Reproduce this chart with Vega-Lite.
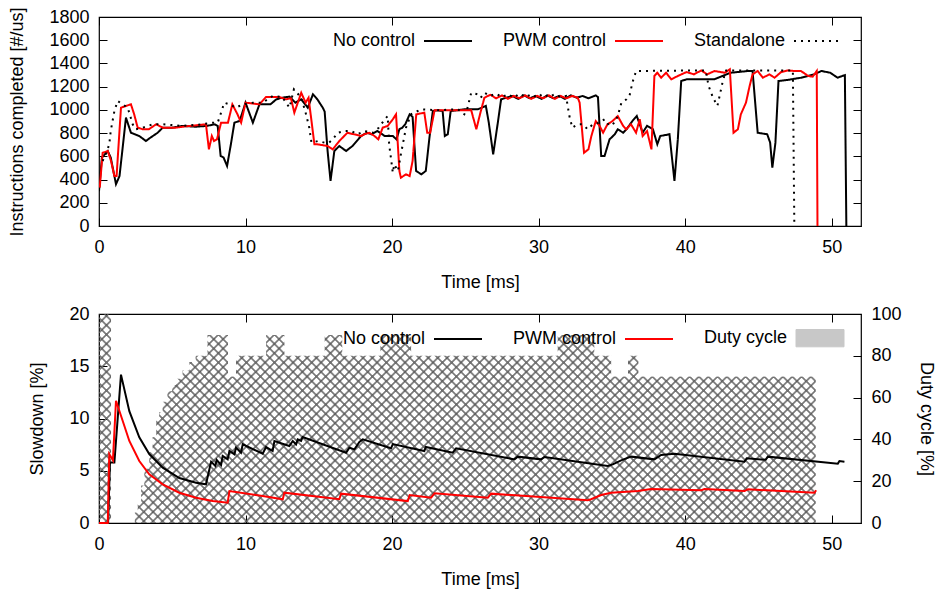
{
"$schema": "https://vega.github.io/schema/vega-lite/v6.json",
"background": "white",
"padding": {"left": 8, "top": 6, "right": 2, "bottom": 0},
"spacing": 12,
"config": {
  "font": "Liberation Sans",
  "view": {"stroke": "black", "strokeWidth": 1.2},
  "axis": {"labelFontSize": 18, "titleFontSize": 18, "labelColor": "black", "titleColor": "black", "titleFontWeight": "normal", "labelFont": "Liberation Sans", "titleFont": "Liberation Sans", "domain": false, "grid": false, "tickColor": "black", "tickSize": -8, "tickWidth": 1, "labelFlush": false, "labelOverlap": false, "titlePadding": 22},
  "axisX": {"labelPadding": 20, "titlePadding": 17},
  "axisY": {"labelPadding": 18},
  "legend": {"labelFontSize": 18, "labelFont": "Liberation Sans", "labelColor": "black", "labelLimit": 300}
},
"datasets": {
  "noctl": [{"t":0,"v":300},{"t":0.2,"v":590},{"t":0.6,"v":645},{"t":0.8,"v":590},{"t":1.16,"v":360},{"t":1.4,"v":430},{"t":1.84,"v":933},{"t":2.18,"v":803},{"t":2.75,"v":775},{"t":3.2,"v":732},{"t":3.5,"v":760},{"t":4.0,"v":803},{"t":4.35,"v":847},{"t":5.0,"v":847},{"t":5.7,"v":862},{"t":6.6,"v":855},{"t":7.35,"v":862},{"t":7.9,"v":876},{"t":8.1,"v":862},{"t":8.3,"v":603},{"t":8.5,"v":590},{"t":8.74,"v":517},{"t":9.0,"v":704},{"t":9.24,"v":890},{"t":9.6,"v":905},{"t":10.0,"v":1062},{"t":10.5,"v":890},{"t":10.95,"v":1048},{"t":11.7,"v":1048},{"t":12.1,"v":1091},{"t":12.5,"v":1105},{"t":13.0,"v":1114},{"t":13.4,"v":1062},{"t":13.8,"v":1091},{"t":14.25,"v":1019},{"t":14.6,"v":1134},{"t":14.9,"v":1091},{"t":15.27,"v":1019},{"t":15.4,"v":985},{"t":15.6,"v":646},{"t":15.8,"v":388},{"t":16.06,"v":646},{"t":16.4,"v":689},{"t":16.86,"v":646},{"t":17.3,"v":689},{"t":17.88,"v":775},{"t":18.3,"v":803},{"t":18.6,"v":790},{"t":19.0,"v":818},{"t":19.5,"v":775},{"t":20.05,"v":775},{"t":20.3,"v":746},{"t":20.5,"v":833},{"t":20.7,"v":847},{"t":20.9,"v":876},{"t":21.2,"v":962},{"t":21.4,"v":940},{"t":21.64,"v":474},{"t":22.0,"v":445},{"t":22.3,"v":474},{"t":22.55,"v":761},{"t":22.78,"v":990},{"t":23.1,"v":997},{"t":23.45,"v":990},{"t":23.6,"v":775},{"t":23.8,"v":790},{"t":24.0,"v":990},{"t":24.9,"v":1005},{"t":25.85,"v":1005},{"t":26.4,"v":1034},{"t":26.6,"v":890},{"t":26.9,"v":617},{"t":27.2,"v":876},{"t":27.44,"v":1091},{"t":27.8,"v":1105},{"t":28.2,"v":1120},{"t":28.6,"v":1095},{"t":29.0,"v":1125},{"t":29.4,"v":1100},{"t":29.8,"v":1120},{"t":30.2,"v":1095},{"t":30.6,"v":1125},{"t":31.0,"v":1100},{"t":31.4,"v":1120},{"t":31.8,"v":1095},{"t":32.2,"v":1125},{"t":32.6,"v":1105},{"t":33.0,"v":1120},{"t":33.4,"v":1100},{"t":33.9,"v":1125},{"t":34.05,"v":1110},{"t":34.27,"v":603},{"t":34.5,"v":603},{"t":34.84,"v":746},{"t":35.2,"v":790},{"t":35.4,"v":833},{"t":35.77,"v":804},{"t":36.0,"v":833},{"t":36.4,"v":904},{"t":36.7,"v":947},{"t":37.1,"v":804},{"t":37.4,"v":862},{"t":37.8,"v":833},{"t":38.1,"v":704},{"t":38.3,"v":775},{"t":38.93,"v":790},{"t":39.27,"v":388},{"t":39.5,"v":746},{"t":39.73,"v":1249},{"t":40.1,"v":1263},{"t":40.85,"v":1263},{"t":41.98,"v":1263},{"t":43.1,"v":1320},{"t":44.3,"v":1335},{"t":44.6,"v":1335},{"t":44.95,"v":803},{"t":45.6,"v":790},{"t":45.8,"v":718},{"t":45.95,"v":502},{"t":46.16,"v":718},{"t":46.37,"v":1249},{"t":47.0,"v":1258},{"t":47.9,"v":1277},{"t":48.8,"v":1306},{"t":49.3,"v":1335},{"t":49.9,"v":1320},{"t":50.4,"v":1277},{"t":50.9,"v":1300},{"t":51.0,"v":0}],
  "pwm": [{"t":0.05,"v":330},{"t":0.25,"v":631},{"t":0.6,"v":645},{"t":0.82,"v":560},{"t":1.05,"v":430},{"t":1.2,"v":430},{"t":1.5,"v":1019},{"t":1.84,"v":1034},{"t":2.18,"v":1048},{"t":2.4,"v":962},{"t":2.64,"v":847},{"t":3.0,"v":833},{"t":3.4,"v":833},{"t":3.9,"v":876},{"t":4.35,"v":847},{"t":5.25,"v":847},{"t":6.2,"v":862},{"t":7.3,"v":876},{"t":7.5,"v":660},{"t":7.7,"v":775},{"t":7.85,"v":732},{"t":8.05,"v":746},{"t":8.33,"v":890},{"t":8.8,"v":890},{"t":9.1,"v":1048},{"t":9.45,"v":962},{"t":9.7,"v":890},{"t":10.0,"v":1062},{"t":10.95,"v":1048},{"t":11.4,"v":1111},{"t":12.3,"v":1111},{"t":12.75,"v":1091},{"t":13.1,"v":1100},{"t":13.33,"v":976},{"t":13.8,"v":1148},{"t":14.1,"v":1062},{"t":14.3,"v":1105},{"t":14.7,"v":704},{"t":14.9,"v":704},{"t":15.6,"v":689},{"t":15.95,"v":660},{"t":16.4,"v":732},{"t":16.95,"v":803},{"t":17.4,"v":790},{"t":17.9,"v":775},{"t":18.1,"v":790},{"t":18.45,"v":803},{"t":18.8,"v":775},{"t":19.06,"v":746},{"t":19.36,"v":847},{"t":19.7,"v":862},{"t":20.05,"v":919},{"t":20.27,"v":962},{"t":20.5,"v":474},{"t":20.6,"v":416},{"t":20.95,"v":445},{"t":21.2,"v":430},{"t":21.4,"v":560},{"t":21.65,"v":962},{"t":22.2,"v":976},{"t":22.4,"v":803},{"t":22.6,"v":803},{"t":22.9,"v":997},{"t":24.0,"v":997},{"t":25.4,"v":997},{"t":25.6,"v":904},{"t":25.75,"v":833},{"t":26.0,"v":962},{"t":26.3,"v":1105},{"t":26.7,"v":1130},{"t":27.1,"v":1100},{"t":27.5,"v":1125},{"t":27.9,"v":1095},{"t":28.3,"v":1120},{"t":28.7,"v":1100},{"t":29.1,"v":1125},{"t":29.5,"v":1095},{"t":29.9,"v":1120},{"t":30.3,"v":1100},{"t":30.7,"v":1125},{"t":31.1,"v":1095},{"t":31.5,"v":1120},{"t":31.9,"v":1100},{"t":32.3,"v":1120},{"t":32.67,"v":1105},{"t":32.8,"v":1062},{"t":33.1,"v":631},{"t":33.4,"v":660},{"t":33.6,"v":775},{"t":33.9,"v":904},{"t":34.16,"v":862},{"t":34.4,"v":804},{"t":34.7,"v":876},{"t":35.05,"v":904},{"t":35.4,"v":947},{"t":35.77,"v":862},{"t":35.97,"v":833},{"t":36.3,"v":876},{"t":36.65,"v":804},{"t":36.9,"v":919},{"t":37.1,"v":775},{"t":37.4,"v":818},{"t":37.7,"v":660},{"t":37.9,"v":1292},{"t":38.1,"v":1320},{"t":38.36,"v":1277},{"t":38.7,"v":1320},{"t":39.05,"v":1263},{"t":39.5,"v":1292},{"t":40.1,"v":1326},{"t":40.6,"v":1306},{"t":41.1,"v":1340},{"t":41.5,"v":1306},{"t":42.0,"v":1335},{"t":42.7,"v":1320},{"t":43.05,"v":1349},{"t":43.3,"v":803},{"t":43.6,"v":833},{"t":43.8,"v":962},{"t":44.15,"v":1062},{"t":44.4,"v":1206},{"t":44.6,"v":1306},{"t":44.95,"v":1335},{"t":45.3,"v":1277},{"t":45.75,"v":1306},{"t":46.1,"v":1277},{"t":46.55,"v":1326},{"t":47.0,"v":1340},{"t":47.45,"v":1335},{"t":47.9,"v":1335},{"t":48.4,"v":1292},{"t":48.7,"v":1286},{"t":48.98,"v":1335},{"t":49.03,"v":0}],
  "standalone": [{"t":0.25,"v":560},{"t":0.55,"v":645},{"t":0.7,"v":704},{"t":0.8,"v":818},{"t":1.05,"v":990},{"t":1.27,"v":1077},{"t":1.6,"v":1048},{"t":1.96,"v":1019},{"t":2.3,"v":876},{"t":2.5,"v":833},{"t":3.0,"v":847},{"t":3.66,"v":876},{"t":4.35,"v":876},{"t":5.7,"v":862},{"t":7.07,"v":876},{"t":7.75,"v":890},{"t":8.1,"v":890},{"t":8.33,"v":976},{"t":8.55,"v":1062},{"t":8.9,"v":1048},{"t":9.35,"v":1019},{"t":9.8,"v":1048},{"t":10.5,"v":1062},{"t":11.17,"v":1062},{"t":11.85,"v":1120},{"t":12.5,"v":1111},{"t":13.0,"v":1019},{"t":13.3,"v":1177},{"t":13.8,"v":1105},{"t":14.1,"v":976},{"t":14.35,"v":847},{"t":14.5,"v":718},{"t":14.95,"v":732},{"t":15.38,"v":718},{"t":15.7,"v":718},{"t":15.95,"v":746},{"t":16.3,"v":803},{"t":16.74,"v":818},{"t":17.2,"v":818},{"t":17.65,"v":790},{"t":18.1,"v":818},{"t":18.7,"v":803},{"t":19.1,"v":847},{"t":19.5,"v":919},{"t":19.7,"v":947},{"t":19.8,"v":704},{"t":20.05,"v":459},{"t":20.15,"v":531},{"t":20.4,"v":474},{"t":20.6,"v":617},{"t":20.95,"v":847},{"t":21.3,"v":962},{"t":21.98,"v":1005},{"t":23.1,"v":997},{"t":24.5,"v":1005},{"t":24.93,"v":962},{"t":25.15,"v":1019},{"t":25.4,"v":1148},{"t":25.85,"v":1134},{"t":26.05,"v":1105},{"t":26.3,"v":1148},{"t":26.7,"v":1120},{"t":27.1,"v":1140},{"t":27.5,"v":1110},{"t":27.9,"v":1135},{"t":28.3,"v":1105},{"t":28.7,"v":1140},{"t":29.1,"v":1110},{"t":29.5,"v":1135},{"t":29.9,"v":1105},{"t":30.3,"v":1140},{"t":30.7,"v":1110},{"t":31.1,"v":1135},{"t":31.5,"v":1110},{"t":31.87,"v":1120},{"t":32.1,"v":947},{"t":32.3,"v":847},{"t":32.67,"v":876},{"t":33.0,"v":876},{"t":33.35,"v":833},{"t":33.7,"v":876},{"t":34.16,"v":890},{"t":34.5,"v":919},{"t":34.84,"v":862},{"t":35.2,"v":890},{"t":35.4,"v":947},{"t":35.65,"v":1062},{"t":36.0,"v":1091},{"t":36.2,"v":1120},{"t":36.4,"v":1234},{"t":36.65,"v":1335},{"t":41.4,"v":1340},{"t":41.6,"v":1206},{"t":41.9,"v":1105},{"t":42.2,"v":1034},{"t":42.4,"v":1148},{"t":42.57,"v":1249},{"t":42.8,"v":1340},{"t":47.35,"v":1340},{"t":47.45,"v":0}],
  "duty": [{"t":0,"d":100},{"t":0.82,"d":0},{"t":2.45,"d":5},{"t":2.64,"d":9},{"t":2.87,"d":18},{"t":3.1,"d":26},{"t":3.43,"d":34},{"t":3.66,"d":41},{"t":3.9,"d":49},{"t":4.1,"d":53},{"t":4.35,"d":58},{"t":4.68,"d":63},{"t":5.0,"d":66},{"t":5.26,"d":69},{"t":5.7,"d":73},{"t":6.17,"d":77},{"t":6.6,"d":80},{"t":7.4,"d":90},{"t":8.8,"d":70},{"t":9.35,"d":80},{"t":11.4,"d":90},{"t":12.65,"d":80},{"t":15.4,"d":90},{"t":16.6,"d":80},{"t":19.2,"d":90},{"t":21.3,"d":80},{"t":31.3,"d":90},{"t":33.8,"d":80},{"t":34.95,"d":70},{"t":36.1,"d":80},{"t":36.8,"d":70},{"t":48.9,"d":70}],
  "slowblack": [{"t":0,"s":0},{"t":0.62,"s":0},{"t":0.75,"s":5.8},{"t":1.05,"s":5.8},{"t":1.5,"s":14.2},{"t":2.07,"s":10.7},{"t":2.75,"s":8.2},{"t":3.43,"s":6.6},{"t":4.35,"s":5.3},{"t":5.48,"s":4.3},{"t":6.62,"s":3.86},{"t":7.3,"s":3.7},{"t":7.65,"s":5.87},{"t":7.94,"s":5.45},{"t":8.03,"s":6.03},{"t":8.33,"s":5.55},{"t":8.44,"s":6.41},{"t":8.78,"s":6.09},{"t":8.9,"s":6.89},{"t":9.24,"s":6.57},{"t":9.35,"s":7.21},{"t":9.69,"s":6.73},{"t":9.81,"s":7.53},{"t":11.17,"s":6.63},{"t":11.4,"s":7.27},{"t":11.85,"s":6.89},{"t":11.97,"s":7.85},{"t":12.99,"s":7.37},{"t":13.22,"s":7.85},{"t":13.45,"s":7.53},{"t":13.56,"s":8.01},{"t":13.79,"s":7.85},{"t":13.9,"s":8.23},{"t":16.86,"s":6.73},{"t":17.09,"s":7.21},{"t":17.43,"s":7.05},{"t":17.77,"s":7.75},{"t":18.0,"s":8.0},{"t":19.93,"s":7.15},{"t":20.05,"s":7.55},{"t":22.2,"s":6.89},{"t":22.3,"s":7.27},{"t":24.14,"s":6.73},{"t":24.37,"s":7.15},{"t":28.35,"s":6.09},{"t":28.58,"s":6.35},{"t":30.17,"s":6.09},{"t":30.4,"s":6.32},{"t":34.72,"s":5.45},{"t":35.06,"s":5.61},{"t":35.63,"s":6.0},{"t":36.31,"s":6.35},{"t":37.9,"s":6.09},{"t":38.36,"s":6.51},{"t":39.27,"s":6.63},{"t":44.05,"s":5.87},{"t":44.2,"s":6.2},{"t":45.5,"s":6.05},{"t":45.64,"s":6.35},{"t":50.42,"s":5.68},{"t":50.53,"s":5.93},{"t":50.87,"s":5.87}],
  "slowred": [{"t":0,"s":0},{"t":0.6,"s":0},{"t":0.7,"s":6.6},{"t":0.95,"s":6.0},{"t":1.16,"s":11.7},{"t":1.62,"s":9.76},{"t":2.07,"s":7.85},{"t":2.75,"s":5.93},{"t":3.43,"s":4.66},{"t":4.35,"s":3.7},{"t":5.48,"s":2.9},{"t":6.62,"s":2.42},{"t":7.76,"s":2.1},{"t":8.78,"s":1.94},{"t":8.9,"s":3.06},{"t":11.17,"s":2.58},{"t":12.54,"s":2.27},{"t":12.65,"s":2.9},{"t":16.4,"s":2.27},{"t":16.52,"s":2.81},{"t":21.07,"s":2.1},{"t":21.2,"s":2.68},{"t":22.66,"s":2.42},{"t":22.9,"s":2.84},{"t":26.53,"s":2.42},{"t":26.76,"s":2.81},{"t":33.36,"s":2.17},{"t":33.58,"s":2.27},{"t":34.27,"s":2.68},{"t":34.95,"s":2.9},{"t":36.77,"s":3.06},{"t":37.68,"s":3.25},{"t":41.1,"s":3.13},{"t":41.32,"s":3.25},{"t":44.05,"s":3.06},{"t":44.28,"s":3.22},{"t":48.83,"s":2.9},{"t":48.94,"s":3.13}]
},
"resolve": {"scale": {"color": "independent", "strokeDash": "independent"}, "legend": {"color": "independent", "strokeDash": "independent"}},
"vconcat": [
  {
    "width": 762, "height": 209,
    "layer": [
      {
        "encoding": {
          "x": {"field": "t", "type": "quantitative", "scale": {"domain": [0, 52], "nice": false}, "axis": {"values": [0,10,20,30,40,50], "title": "Time [ms]"}},
          "y": {"field": "v", "type": "quantitative", "scale": {"domain": [0, 1800], "nice": false}, "axis": {"values": [0,200,400,600,800,1000,1200,1400,1600,1800], "format": "d", "labelOverlap": false, "title": "Instructions completed [#/us]"}}
        },
        "layer": [
          {
            "data": {"name": "noctl"},
            "mark": {"type": "line", "strokeWidth": 2, "clip": true},
            "encoding": {
              "color": {"datum": "No control", "type": "nominal", "scale": {"domain": ["No control", "PWM control", "Standalone"], "range": ["black", "red", "black"]}, "legend": {"title": null, "orient": "top-right", "direction": "horizontal", "offset": 15, "padding": 0, "symbolType": "stroke", "symbolSize": 400, "symbolStrokeWidth": 2, "columnPadding": 26, "labelOffset": 8,
                "encoding": {"labels": {"x": {"value": -24}, "align": {"value": "right"}}, "symbols": {"size": {"value": 2304}, "stroke": {"value": {"expr": "datum.value === 'PWM control' ? 'red' : 'black'"}}, "strokeWidth": {"value": {"expr": "datum.value ? 2 : 2"}}, "strokeDash": {"value": {"expr": "datum.value === 'Standalone' ? [2, 5] : [1, 0]"}}}}}},
              "strokeDash": {"datum": "No control", "type": "nominal", "scale": {"domain": ["No control", "PWM control", "Standalone"], "range": [[1,0],[1,0],[2,5]]}, "legend": null}
            }
          },
          {
            "data": {"name": "pwm"},
            "mark": {"type": "line", "strokeWidth": 2, "clip": true},
            "encoding": {
              "color": {"datum": "PWM control", "type": "nominal"},
              "strokeDash": {"datum": "PWM control", "type": "nominal", "legend": null}
            }
          },
          {
            "data": {"name": "standalone"},
            "mark": {"type": "line", "strokeWidth": 2, "clip": true},
            "encoding": {
              "color": {"datum": "Standalone", "type": "nominal"},
              "strokeDash": {"datum": "Standalone", "type": "nominal", "legend": null}
            }
          }
        ]
      },
      {
        "data": {"name": "noctl"},
        "mark": {"type": "point", "opacity": 0},
        "encoding": {
          "x": {"field": "t", "type": "quantitative", "axis": {"orient": "top", "values": [0,10,20,30,40,50], "labels": false, "title": null}},
          "y": {"field": "v", "type": "quantitative", "axis": {"orient": "right", "values": [0,200,400,600,800,1000,1200,1400,1600,1800], "labels": false, "title": null}}
        }
      }
    ],
    "resolve": {"axis": {"x": "independent", "y": "independent"}}
  },
  {
    "width": 762, "height": 209,
    "layer": [
      {
        "data": {"name": "duty"},
        "encoding": {
          "x": {"field": "t", "type": "quantitative", "scale": {"domain": [0, 52], "nice": false}, "axis": {"values": [0,10,20,30,40,50], "title": "Time [ms]"}},
          "y": {"field": "d", "type": "quantitative", "scale": {"domain": [0, 100], "nice": false}, "axis": {"orient": "right", "values": [0,20,40,60,80,100], "labelOverlap": false, "title": "Duty cycle [%]", "titlePadding": 15}}
        },
        "layer": [
          {
            "mark": {"type": "area", "interpolate": "step-after", "fill": {"gradient": "linear", "x1": 0, "y1": 0, "x2": 1.2, "y2": 0.35, "stops": [{"offset":0,"color":"#777"},{"offset":0.002,"color":"transparent"},{"offset":0.008,"color":"transparent"},{"offset":0.01,"color":"#777"},{"offset":0.012,"color":"transparent"},{"offset":0.018,"color":"transparent"},{"offset":0.02,"color":"#777"},{"offset":0.022,"color":"transparent"},{"offset":0.028,"color":"transparent"},{"offset":0.03,"color":"#777"},{"offset":0.032,"color":"transparent"},{"offset":0.038,"color":"transparent"},{"offset":0.04,"color":"#777"},{"offset":0.042,"color":"transparent"},{"offset":0.048,"color":"transparent"},{"offset":0.05,"color":"#777"},{"offset":0.052,"color":"transparent"},{"offset":0.058,"color":"transparent"},{"offset":0.06,"color":"#777"},{"offset":0.062,"color":"transparent"},{"offset":0.068,"color":"transparent"},{"offset":0.07,"color":"#777"},{"offset":0.072,"color":"transparent"},{"offset":0.078,"color":"transparent"},{"offset":0.08,"color":"#777"},{"offset":0.082,"color":"transparent"},{"offset":0.088,"color":"transparent"},{"offset":0.09,"color":"#777"},{"offset":0.092,"color":"transparent"},{"offset":0.098,"color":"transparent"},{"offset":0.1,"color":"#777"},{"offset":0.102,"color":"transparent"},{"offset":0.108,"color":"transparent"},{"offset":0.11,"color":"#777"},{"offset":0.112,"color":"transparent"},{"offset":0.118,"color":"transparent"},{"offset":0.12,"color":"#777"},{"offset":0.122,"color":"transparent"},{"offset":0.128,"color":"transparent"},{"offset":0.13,"color":"#777"},{"offset":0.132,"color":"transparent"},{"offset":0.138,"color":"transparent"},{"offset":0.14,"color":"#777"},{"offset":0.142,"color":"transparent"},{"offset":0.148,"color":"transparent"},{"offset":0.15,"color":"#777"},{"offset":0.152,"color":"transparent"},{"offset":0.158,"color":"transparent"},{"offset":0.16,"color":"#777"},{"offset":0.162,"color":"transparent"},{"offset":0.168,"color":"transparent"},{"offset":0.17,"color":"#777"},{"offset":0.172,"color":"transparent"},{"offset":0.178,"color":"transparent"},{"offset":0.18,"color":"#777"},{"offset":0.182,"color":"transparent"},{"offset":0.188,"color":"transparent"},{"offset":0.19,"color":"#777"},{"offset":0.192,"color":"transparent"},{"offset":0.198,"color":"transparent"},{"offset":0.2,"color":"#777"},{"offset":0.202,"color":"transparent"},{"offset":0.208,"color":"transparent"},{"offset":0.21,"color":"#777"},{"offset":0.212,"color":"transparent"},{"offset":0.218,"color":"transparent"},{"offset":0.22,"color":"#777"},{"offset":0.222,"color":"transparent"},{"offset":0.228,"color":"transparent"},{"offset":0.23,"color":"#777"},{"offset":0.232,"color":"transparent"},{"offset":0.238,"color":"transparent"},{"offset":0.24,"color":"#777"},{"offset":0.242,"color":"transparent"},{"offset":0.248,"color":"transparent"},{"offset":0.25,"color":"#777"},{"offset":0.252,"color":"transparent"},{"offset":0.258,"color":"transparent"},{"offset":0.26,"color":"#777"},{"offset":0.262,"color":"transparent"},{"offset":0.268,"color":"transparent"},{"offset":0.27,"color":"#777"},{"offset":0.272,"color":"transparent"},{"offset":0.278,"color":"transparent"},{"offset":0.28,"color":"#777"},{"offset":0.282,"color":"transparent"},{"offset":0.288,"color":"transparent"},{"offset":0.29,"color":"#777"},{"offset":0.292,"color":"transparent"},{"offset":0.298,"color":"transparent"},{"offset":0.3,"color":"#777"},{"offset":0.302,"color":"transparent"},{"offset":0.308,"color":"transparent"},{"offset":0.31,"color":"#777"},{"offset":0.312,"color":"transparent"},{"offset":0.318,"color":"transparent"},{"offset":0.32,"color":"#777"},{"offset":0.322,"color":"transparent"},{"offset":0.328,"color":"transparent"},{"offset":0.33,"color":"#777"},{"offset":0.332,"color":"transparent"},{"offset":0.338,"color":"transparent"},{"offset":0.34,"color":"#777"},{"offset":0.342,"color":"transparent"},{"offset":0.348,"color":"transparent"},{"offset":0.35,"color":"#777"},{"offset":0.352,"color":"transparent"},{"offset":0.358,"color":"transparent"},{"offset":0.36,"color":"#777"},{"offset":0.362,"color":"transparent"},{"offset":0.368,"color":"transparent"},{"offset":0.37,"color":"#777"},{"offset":0.372,"color":"transparent"},{"offset":0.378,"color":"transparent"},{"offset":0.38,"color":"#777"},{"offset":0.382,"color":"transparent"},{"offset":0.388,"color":"transparent"},{"offset":0.39,"color":"#777"},{"offset":0.392,"color":"transparent"},{"offset":0.398,"color":"transparent"},{"offset":0.4,"color":"#777"},{"offset":0.402,"color":"transparent"},{"offset":0.408,"color":"transparent"},{"offset":0.41,"color":"#777"},{"offset":0.412,"color":"transparent"},{"offset":0.418,"color":"transparent"},{"offset":0.42,"color":"#777"},{"offset":0.422,"color":"transparent"},{"offset":0.428,"color":"transparent"},{"offset":0.43,"color":"#777"},{"offset":0.432,"color":"transparent"},{"offset":0.438,"color":"transparent"},{"offset":0.44,"color":"#777"},{"offset":0.442,"color":"transparent"},{"offset":0.448,"color":"transparent"},{"offset":0.45,"color":"#777"},{"offset":0.452,"color":"transparent"},{"offset":0.458,"color":"transparent"},{"offset":0.46,"color":"#777"},{"offset":0.462,"color":"transparent"},{"offset":0.468,"color":"transparent"},{"offset":0.47,"color":"#777"},{"offset":0.472,"color":"transparent"},{"offset":0.478,"color":"transparent"},{"offset":0.48,"color":"#777"},{"offset":0.482,"color":"transparent"},{"offset":0.488,"color":"transparent"},{"offset":0.49,"color":"#777"},{"offset":0.492,"color":"transparent"},{"offset":0.498,"color":"transparent"},{"offset":0.5,"color":"#777"},{"offset":0.502,"color":"transparent"},{"offset":0.508,"color":"transparent"},{"offset":0.51,"color":"#777"},{"offset":0.512,"color":"transparent"},{"offset":0.518,"color":"transparent"},{"offset":0.52,"color":"#777"},{"offset":0.522,"color":"transparent"},{"offset":0.528,"color":"transparent"},{"offset":0.53,"color":"#777"},{"offset":0.532,"color":"transparent"},{"offset":0.538,"color":"transparent"},{"offset":0.54,"color":"#777"},{"offset":0.542,"color":"transparent"},{"offset":0.548,"color":"transparent"},{"offset":0.55,"color":"#777"},{"offset":0.552,"color":"transparent"},{"offset":0.558,"color":"transparent"},{"offset":0.56,"color":"#777"},{"offset":0.562,"color":"transparent"},{"offset":0.568,"color":"transparent"},{"offset":0.57,"color":"#777"},{"offset":0.572,"color":"transparent"},{"offset":0.578,"color":"transparent"},{"offset":0.58,"color":"#777"},{"offset":0.582,"color":"transparent"},{"offset":0.588,"color":"transparent"},{"offset":0.59,"color":"#777"},{"offset":0.592,"color":"transparent"},{"offset":0.598,"color":"transparent"},{"offset":0.6,"color":"#777"},{"offset":0.602,"color":"transparent"},{"offset":0.608,"color":"transparent"},{"offset":0.61,"color":"#777"},{"offset":0.612,"color":"transparent"},{"offset":0.618,"color":"transparent"},{"offset":0.62,"color":"#777"},{"offset":0.622,"color":"transparent"},{"offset":0.628,"color":"transparent"},{"offset":0.63,"color":"#777"},{"offset":0.632,"color":"transparent"},{"offset":0.638,"color":"transparent"},{"offset":0.64,"color":"#777"},{"offset":0.642,"color":"transparent"},{"offset":0.648,"color":"transparent"},{"offset":0.65,"color":"#777"},{"offset":0.652,"color":"transparent"},{"offset":0.658,"color":"transparent"},{"offset":0.66,"color":"#777"},{"offset":0.662,"color":"transparent"},{"offset":0.668,"color":"transparent"},{"offset":0.67,"color":"#777"},{"offset":0.672,"color":"transparent"},{"offset":0.678,"color":"transparent"},{"offset":0.68,"color":"#777"},{"offset":0.682,"color":"transparent"},{"offset":0.688,"color":"transparent"},{"offset":0.69,"color":"#777"},{"offset":0.692,"color":"transparent"},{"offset":0.698,"color":"transparent"},{"offset":0.7,"color":"#777"},{"offset":0.702,"color":"transparent"},{"offset":0.708,"color":"transparent"},{"offset":0.71,"color":"#777"},{"offset":0.712,"color":"transparent"},{"offset":0.718,"color":"transparent"},{"offset":0.72,"color":"#777"},{"offset":0.722,"color":"transparent"},{"offset":0.728,"color":"transparent"},{"offset":0.73,"color":"#777"},{"offset":0.732,"color":"transparent"},{"offset":0.738,"color":"transparent"},{"offset":0.74,"color":"#777"},{"offset":0.742,"color":"transparent"},{"offset":0.748,"color":"transparent"},{"offset":0.75,"color":"#777"},{"offset":0.752,"color":"transparent"},{"offset":0.758,"color":"transparent"},{"offset":0.76,"color":"#777"},{"offset":0.762,"color":"transparent"},{"offset":0.768,"color":"transparent"},{"offset":0.77,"color":"#777"},{"offset":0.772,"color":"transparent"},{"offset":0.778,"color":"transparent"},{"offset":0.78,"color":"#777"},{"offset":0.782,"color":"transparent"},{"offset":0.788,"color":"transparent"},{"offset":0.79,"color":"#777"},{"offset":0.792,"color":"transparent"},{"offset":0.798,"color":"transparent"},{"offset":0.8,"color":"#777"},{"offset":0.802,"color":"transparent"},{"offset":0.808,"color":"transparent"},{"offset":0.81,"color":"#777"},{"offset":0.812,"color":"transparent"},{"offset":0.818,"color":"transparent"},{"offset":0.82,"color":"#777"},{"offset":0.822,"color":"transparent"},{"offset":0.828,"color":"transparent"},{"offset":0.83,"color":"#777"},{"offset":0.832,"color":"transparent"},{"offset":0.838,"color":"transparent"},{"offset":0.84,"color":"#777"},{"offset":0.842,"color":"transparent"},{"offset":0.848,"color":"transparent"},{"offset":0.85,"color":"#777"},{"offset":0.852,"color":"transparent"},{"offset":0.858,"color":"transparent"},{"offset":0.86,"color":"#777"},{"offset":0.862,"color":"transparent"},{"offset":0.868,"color":"transparent"},{"offset":0.87,"color":"#777"},{"offset":0.872,"color":"transparent"},{"offset":0.878,"color":"transparent"},{"offset":0.88,"color":"#777"},{"offset":0.882,"color":"transparent"},{"offset":0.888,"color":"transparent"},{"offset":0.89,"color":"#777"},{"offset":0.892,"color":"transparent"},{"offset":0.898,"color":"transparent"},{"offset":0.9,"color":"#777"},{"offset":0.902,"color":"transparent"},{"offset":0.908,"color":"transparent"},{"offset":0.91,"color":"#777"},{"offset":0.912,"color":"transparent"},{"offset":0.918,"color":"transparent"},{"offset":0.92,"color":"#777"},{"offset":0.922,"color":"transparent"},{"offset":0.928,"color":"transparent"},{"offset":0.93,"color":"#777"},{"offset":0.932,"color":"transparent"},{"offset":0.938,"color":"transparent"},{"offset":0.94,"color":"#777"},{"offset":0.942,"color":"transparent"},{"offset":0.948,"color":"transparent"},{"offset":0.95,"color":"#777"},{"offset":0.952,"color":"transparent"},{"offset":0.958,"color":"transparent"},{"offset":0.96,"color":"#777"},{"offset":0.962,"color":"transparent"},{"offset":0.968,"color":"transparent"},{"offset":0.97,"color":"#777"},{"offset":0.972,"color":"transparent"},{"offset":0.978,"color":"transparent"},{"offset":0.98,"color":"#777"},{"offset":0.982,"color":"transparent"},{"offset":0.988,"color":"transparent"},{"offset":0.99,"color":"#777"},{"offset":0.992,"color":"transparent"},{"offset":0.998,"color":"transparent"},{"offset":1,"color":"#777"}]}}
          },
          {
            "mark": {"type": "area", "interpolate": "step-after", "fill": {"gradient": "linear", "x1": 0, "y1": 1, "x2": 1.2, "y2": 0.65, "stops": [{"offset":0,"color":"#777"},{"offset":0.002,"color":"transparent"},{"offset":0.008,"color":"transparent"},{"offset":0.01,"color":"#777"},{"offset":0.012,"color":"transparent"},{"offset":0.018,"color":"transparent"},{"offset":0.02,"color":"#777"},{"offset":0.022,"color":"transparent"},{"offset":0.028,"color":"transparent"},{"offset":0.03,"color":"#777"},{"offset":0.032,"color":"transparent"},{"offset":0.038,"color":"transparent"},{"offset":0.04,"color":"#777"},{"offset":0.042,"color":"transparent"},{"offset":0.048,"color":"transparent"},{"offset":0.05,"color":"#777"},{"offset":0.052,"color":"transparent"},{"offset":0.058,"color":"transparent"},{"offset":0.06,"color":"#777"},{"offset":0.062,"color":"transparent"},{"offset":0.068,"color":"transparent"},{"offset":0.07,"color":"#777"},{"offset":0.072,"color":"transparent"},{"offset":0.078,"color":"transparent"},{"offset":0.08,"color":"#777"},{"offset":0.082,"color":"transparent"},{"offset":0.088,"color":"transparent"},{"offset":0.09,"color":"#777"},{"offset":0.092,"color":"transparent"},{"offset":0.098,"color":"transparent"},{"offset":0.1,"color":"#777"},{"offset":0.102,"color":"transparent"},{"offset":0.108,"color":"transparent"},{"offset":0.11,"color":"#777"},{"offset":0.112,"color":"transparent"},{"offset":0.118,"color":"transparent"},{"offset":0.12,"color":"#777"},{"offset":0.122,"color":"transparent"},{"offset":0.128,"color":"transparent"},{"offset":0.13,"color":"#777"},{"offset":0.132,"color":"transparent"},{"offset":0.138,"color":"transparent"},{"offset":0.14,"color":"#777"},{"offset":0.142,"color":"transparent"},{"offset":0.148,"color":"transparent"},{"offset":0.15,"color":"#777"},{"offset":0.152,"color":"transparent"},{"offset":0.158,"color":"transparent"},{"offset":0.16,"color":"#777"},{"offset":0.162,"color":"transparent"},{"offset":0.168,"color":"transparent"},{"offset":0.17,"color":"#777"},{"offset":0.172,"color":"transparent"},{"offset":0.178,"color":"transparent"},{"offset":0.18,"color":"#777"},{"offset":0.182,"color":"transparent"},{"offset":0.188,"color":"transparent"},{"offset":0.19,"color":"#777"},{"offset":0.192,"color":"transparent"},{"offset":0.198,"color":"transparent"},{"offset":0.2,"color":"#777"},{"offset":0.202,"color":"transparent"},{"offset":0.208,"color":"transparent"},{"offset":0.21,"color":"#777"},{"offset":0.212,"color":"transparent"},{"offset":0.218,"color":"transparent"},{"offset":0.22,"color":"#777"},{"offset":0.222,"color":"transparent"},{"offset":0.228,"color":"transparent"},{"offset":0.23,"color":"#777"},{"offset":0.232,"color":"transparent"},{"offset":0.238,"color":"transparent"},{"offset":0.24,"color":"#777"},{"offset":0.242,"color":"transparent"},{"offset":0.248,"color":"transparent"},{"offset":0.25,"color":"#777"},{"offset":0.252,"color":"transparent"},{"offset":0.258,"color":"transparent"},{"offset":0.26,"color":"#777"},{"offset":0.262,"color":"transparent"},{"offset":0.268,"color":"transparent"},{"offset":0.27,"color":"#777"},{"offset":0.272,"color":"transparent"},{"offset":0.278,"color":"transparent"},{"offset":0.28,"color":"#777"},{"offset":0.282,"color":"transparent"},{"offset":0.288,"color":"transparent"},{"offset":0.29,"color":"#777"},{"offset":0.292,"color":"transparent"},{"offset":0.298,"color":"transparent"},{"offset":0.3,"color":"#777"},{"offset":0.302,"color":"transparent"},{"offset":0.308,"color":"transparent"},{"offset":0.31,"color":"#777"},{"offset":0.312,"color":"transparent"},{"offset":0.318,"color":"transparent"},{"offset":0.32,"color":"#777"},{"offset":0.322,"color":"transparent"},{"offset":0.328,"color":"transparent"},{"offset":0.33,"color":"#777"},{"offset":0.332,"color":"transparent"},{"offset":0.338,"color":"transparent"},{"offset":0.34,"color":"#777"},{"offset":0.342,"color":"transparent"},{"offset":0.348,"color":"transparent"},{"offset":0.35,"color":"#777"},{"offset":0.352,"color":"transparent"},{"offset":0.358,"color":"transparent"},{"offset":0.36,"color":"#777"},{"offset":0.362,"color":"transparent"},{"offset":0.368,"color":"transparent"},{"offset":0.37,"color":"#777"},{"offset":0.372,"color":"transparent"},{"offset":0.378,"color":"transparent"},{"offset":0.38,"color":"#777"},{"offset":0.382,"color":"transparent"},{"offset":0.388,"color":"transparent"},{"offset":0.39,"color":"#777"},{"offset":0.392,"color":"transparent"},{"offset":0.398,"color":"transparent"},{"offset":0.4,"color":"#777"},{"offset":0.402,"color":"transparent"},{"offset":0.408,"color":"transparent"},{"offset":0.41,"color":"#777"},{"offset":0.412,"color":"transparent"},{"offset":0.418,"color":"transparent"},{"offset":0.42,"color":"#777"},{"offset":0.422,"color":"transparent"},{"offset":0.428,"color":"transparent"},{"offset":0.43,"color":"#777"},{"offset":0.432,"color":"transparent"},{"offset":0.438,"color":"transparent"},{"offset":0.44,"color":"#777"},{"offset":0.442,"color":"transparent"},{"offset":0.448,"color":"transparent"},{"offset":0.45,"color":"#777"},{"offset":0.452,"color":"transparent"},{"offset":0.458,"color":"transparent"},{"offset":0.46,"color":"#777"},{"offset":0.462,"color":"transparent"},{"offset":0.468,"color":"transparent"},{"offset":0.47,"color":"#777"},{"offset":0.472,"color":"transparent"},{"offset":0.478,"color":"transparent"},{"offset":0.48,"color":"#777"},{"offset":0.482,"color":"transparent"},{"offset":0.488,"color":"transparent"},{"offset":0.49,"color":"#777"},{"offset":0.492,"color":"transparent"},{"offset":0.498,"color":"transparent"},{"offset":0.5,"color":"#777"},{"offset":0.502,"color":"transparent"},{"offset":0.508,"color":"transparent"},{"offset":0.51,"color":"#777"},{"offset":0.512,"color":"transparent"},{"offset":0.518,"color":"transparent"},{"offset":0.52,"color":"#777"},{"offset":0.522,"color":"transparent"},{"offset":0.528,"color":"transparent"},{"offset":0.53,"color":"#777"},{"offset":0.532,"color":"transparent"},{"offset":0.538,"color":"transparent"},{"offset":0.54,"color":"#777"},{"offset":0.542,"color":"transparent"},{"offset":0.548,"color":"transparent"},{"offset":0.55,"color":"#777"},{"offset":0.552,"color":"transparent"},{"offset":0.558,"color":"transparent"},{"offset":0.56,"color":"#777"},{"offset":0.562,"color":"transparent"},{"offset":0.568,"color":"transparent"},{"offset":0.57,"color":"#777"},{"offset":0.572,"color":"transparent"},{"offset":0.578,"color":"transparent"},{"offset":0.58,"color":"#777"},{"offset":0.582,"color":"transparent"},{"offset":0.588,"color":"transparent"},{"offset":0.59,"color":"#777"},{"offset":0.592,"color":"transparent"},{"offset":0.598,"color":"transparent"},{"offset":0.6,"color":"#777"},{"offset":0.602,"color":"transparent"},{"offset":0.608,"color":"transparent"},{"offset":0.61,"color":"#777"},{"offset":0.612,"color":"transparent"},{"offset":0.618,"color":"transparent"},{"offset":0.62,"color":"#777"},{"offset":0.622,"color":"transparent"},{"offset":0.628,"color":"transparent"},{"offset":0.63,"color":"#777"},{"offset":0.632,"color":"transparent"},{"offset":0.638,"color":"transparent"},{"offset":0.64,"color":"#777"},{"offset":0.642,"color":"transparent"},{"offset":0.648,"color":"transparent"},{"offset":0.65,"color":"#777"},{"offset":0.652,"color":"transparent"},{"offset":0.658,"color":"transparent"},{"offset":0.66,"color":"#777"},{"offset":0.662,"color":"transparent"},{"offset":0.668,"color":"transparent"},{"offset":0.67,"color":"#777"},{"offset":0.672,"color":"transparent"},{"offset":0.678,"color":"transparent"},{"offset":0.68,"color":"#777"},{"offset":0.682,"color":"transparent"},{"offset":0.688,"color":"transparent"},{"offset":0.69,"color":"#777"},{"offset":0.692,"color":"transparent"},{"offset":0.698,"color":"transparent"},{"offset":0.7,"color":"#777"},{"offset":0.702,"color":"transparent"},{"offset":0.708,"color":"transparent"},{"offset":0.71,"color":"#777"},{"offset":0.712,"color":"transparent"},{"offset":0.718,"color":"transparent"},{"offset":0.72,"color":"#777"},{"offset":0.722,"color":"transparent"},{"offset":0.728,"color":"transparent"},{"offset":0.73,"color":"#777"},{"offset":0.732,"color":"transparent"},{"offset":0.738,"color":"transparent"},{"offset":0.74,"color":"#777"},{"offset":0.742,"color":"transparent"},{"offset":0.748,"color":"transparent"},{"offset":0.75,"color":"#777"},{"offset":0.752,"color":"transparent"},{"offset":0.758,"color":"transparent"},{"offset":0.76,"color":"#777"},{"offset":0.762,"color":"transparent"},{"offset":0.768,"color":"transparent"},{"offset":0.77,"color":"#777"},{"offset":0.772,"color":"transparent"},{"offset":0.778,"color":"transparent"},{"offset":0.78,"color":"#777"},{"offset":0.782,"color":"transparent"},{"offset":0.788,"color":"transparent"},{"offset":0.79,"color":"#777"},{"offset":0.792,"color":"transparent"},{"offset":0.798,"color":"transparent"},{"offset":0.8,"color":"#777"},{"offset":0.802,"color":"transparent"},{"offset":0.808,"color":"transparent"},{"offset":0.81,"color":"#777"},{"offset":0.812,"color":"transparent"},{"offset":0.818,"color":"transparent"},{"offset":0.82,"color":"#777"},{"offset":0.822,"color":"transparent"},{"offset":0.828,"color":"transparent"},{"offset":0.83,"color":"#777"},{"offset":0.832,"color":"transparent"},{"offset":0.838,"color":"transparent"},{"offset":0.84,"color":"#777"},{"offset":0.842,"color":"transparent"},{"offset":0.848,"color":"transparent"},{"offset":0.85,"color":"#777"},{"offset":0.852,"color":"transparent"},{"offset":0.858,"color":"transparent"},{"offset":0.86,"color":"#777"},{"offset":0.862,"color":"transparent"},{"offset":0.868,"color":"transparent"},{"offset":0.87,"color":"#777"},{"offset":0.872,"color":"transparent"},{"offset":0.878,"color":"transparent"},{"offset":0.88,"color":"#777"},{"offset":0.882,"color":"transparent"},{"offset":0.888,"color":"transparent"},{"offset":0.89,"color":"#777"},{"offset":0.892,"color":"transparent"},{"offset":0.898,"color":"transparent"},{"offset":0.9,"color":"#777"},{"offset":0.902,"color":"transparent"},{"offset":0.908,"color":"transparent"},{"offset":0.91,"color":"#777"},{"offset":0.912,"color":"transparent"},{"offset":0.918,"color":"transparent"},{"offset":0.92,"color":"#777"},{"offset":0.922,"color":"transparent"},{"offset":0.928,"color":"transparent"},{"offset":0.93,"color":"#777"},{"offset":0.932,"color":"transparent"},{"offset":0.938,"color":"transparent"},{"offset":0.94,"color":"#777"},{"offset":0.942,"color":"transparent"},{"offset":0.948,"color":"transparent"},{"offset":0.95,"color":"#777"},{"offset":0.952,"color":"transparent"},{"offset":0.958,"color":"transparent"},{"offset":0.96,"color":"#777"},{"offset":0.962,"color":"transparent"},{"offset":0.968,"color":"transparent"},{"offset":0.97,"color":"#777"},{"offset":0.972,"color":"transparent"},{"offset":0.978,"color":"transparent"},{"offset":0.98,"color":"#777"},{"offset":0.982,"color":"transparent"},{"offset":0.988,"color":"transparent"},{"offset":0.99,"color":"#777"},{"offset":0.992,"color":"transparent"},{"offset":0.998,"color":"transparent"},{"offset":1,"color":"#777"}]}}
          }
        ]
      },
      {
        "layer": [
          {
            "data": {"name": "slowblack"},
            "mark": {"type": "line", "strokeWidth": 2},
            "encoding": {
              "x": {"field": "t", "type": "quantitative", "axis": {"orient": "top", "values": [0,10,20,30,40,50], "labels": false, "title": null}},
              "y": {"field": "s", "type": "quantitative", "scale": {"domain": [0, 20], "nice": false}, "axis": {"orient": "left", "values": [0,5,10,15,20], "labelOverlap": false, "title": "Slowdown [%]"}},
              "color": {"datum": "No control", "type": "nominal", "scale": {"domain": ["No control", "PWM control", "Duty cycle"], "range": ["black", "red", "#c8c8c8"]}, "legend": {"title": null, "orient": "top-right", "direction": "horizontal", "offset": 15, "padding": 0, "symbolType": "stroke", "symbolSize": 400, "symbolStrokeWidth": 2, "columnPadding": 26, "labelOffset": 8,
                "encoding": {"labels": {"x": {"value": -24}, "align": {"value": "right"}}, "symbols": {"size": {"value": 2304}, "shape": {"value": {"expr": "datum.value === 'Duty cycle' ? 'M-1,-0.36H1V0.36H-1Z' : 'stroke'"}}, "fill": {"value": {"expr": "datum.value === 'Duty cycle' ? '#c8c8c8' : 'transparent'"}}, "stroke": {"value": {"expr": "datum.value === 'Duty cycle' ? '#999999' : (datum.value === 'PWM control' ? 'red' : 'black')"}}, "strokeWidth": {"value": {"expr": "datum.value === 'Duty cycle' ? 1 : 2"}}}}}}
            }
          },
          {
            "data": {"name": "slowred"},
            "mark": {"type": "line", "strokeWidth": 2},
            "encoding": {
              "x": {"field": "t", "type": "quantitative"},
              "y": {"field": "s", "type": "quantitative"},
              "color": {"datum": "PWM control", "type": "nominal"}
            }
          }
        ]
      }
    ],
    "resolve": {"scale": {"y": "independent"}, "axis": {"x": "independent"}}
  }
]
}
